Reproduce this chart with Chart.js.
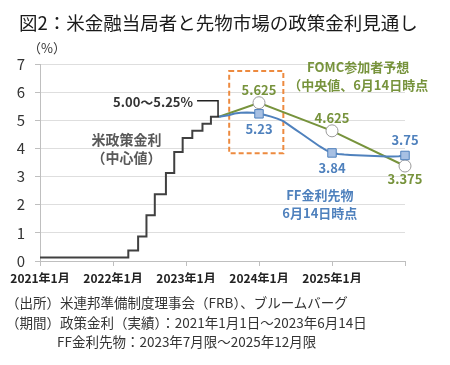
<!DOCTYPE html>
<html>
<head>
<meta charset="utf-8">
<script src="https://cdn.jsdelivr.net/npm/chart.js@4"></script>
<style>
body{margin:0;background:#fff;font-family:"Noto Sans CJK JP",sans-serif;}
#wrap{position:relative;width:450px;height:365px;overflow:hidden;}
canvas{position:absolute;left:0;top:0;}
.t{position:absolute;white-space:nowrap;color:#262626;}
</style>
</head>
<body>
<div id="wrap">
<canvas id="myChart" width="450" height="365"></canvas>
<div class="t" style="left:19px;top:9px;font-size:18.5px;color:#1a1a1a;">図2：米金融当局者と先物市場の政策金利見通し</div>
<div class="t" style="left:28px;top:38px;font-size:13px;color:#333;">（%）</div>
<div class="t" style="left:6px;top:292px;font-size:13.5px;color:#333;">（出所）米連邦準備制度理事会（FRB）、ブルームバーグ</div>
<div class="t" style="left:6px;top:312px;font-size:13.5px;color:#333;">（期間）政策金利（実績）：2021年1月1日～2023年6月14日</div>
<div class="t" style="left:57px;top:331px;font-size:13.5px;color:#333;">FF金利先物：2023年7月限～2025年12月限</div>
</div>
<script>
// 政策金利（中心値）: 変更日と水準
const policyDates = ["2021-01-01","2022-03-17","2022-05-05","2022-06-16","2022-07-28","2022-09-22",
    "2022-11-03","2022-12-15","2023-02-02","2023-03-23","2023-05-04","2023-06-14"]
const policyRates = [0.125,0.375,0.875,1.625,2.375,3.125,3.875,4.375,4.625,4.875,5.125,5.125]

// FOMC参加者予想（中央値）: 年末
const fomcDates = ["2023-06-14","2023-12-31","2024-12-31","2025-12-31"]
const fomcRates = [5.125,5.625,4.625,3.375]

// FF金利先物: 2023年7月限～2025年12月限
const futuresMonths = ["2023-07","2023-08","2023-09","2023-10","2023-11","2023-12",
    "2024-01","2024-02","2024-03","2024-04","2024-05","2024-06","2024-07","2024-08","2024-09","2024-10","2024-11","2024-12",
    "2025-01","2025-02","2025-03","2025-04","2025-05","2025-06","2025-07","2025-08","2025-09","2025-10","2025-11","2025-12"]
const futuresRates = [5.18,5.24,5.27,5.28,5.27,5.23,
    5.19,5.13,5.06,4.97,4.82,4.67,4.52,4.37,4.22,4.07,3.94,3.84,
    3.80,3.78,3.77,3.76,3.75,3.74,3.73,3.72,3.71,3.71,3.72,3.75]

const xTickYears = [2021,2022,2023,2024,2025,2026]

const GREEN = "#77933C"
const BLUE = "#4F81BD"
const DARK = "#404040"

// 2021年1月1日からの経過月数
function dateToMonth(s){
    let [y, m, d] = s.split("-").map(Number)
    if (d === undefined) return (y - 2021) * 12 + m   // 限月は月末
    let days = new Date(y, m, 0).getDate()
    if (d >= days) return (y - 2021) * 12 + m
    return (y - 2021) * 12 + (m - 1) + (d - 1) / days
}

const policyData = policyDates.map((d, i) => ({x: dateToMonth(d), y: policyRates[i]}))
const fomcData = fomcDates.map((d, i) => ({x: dateToMonth(d), y: fomcRates[i]}))
const futuresData = [{x: dateToMonth(policyDates[policyDates.length - 1]), y: policyRates[policyRates.length - 1]}]
    .concat(futuresMonths.map((m, i) => ({x: dateToMonth(m), y: futuresRates[i]})))

function isYearEnd(p){ return p && Math.abs(p.x % 12) < 0.001 && p.x > 30 }

const labelPlugin = {
    id: "labels",
    beforeDatasetsDraw(chart){
        let ctx = chart.ctx, xs = chart.scales.x, ys = chart.scales.y
        // 点線の枠（2023年末）
        ctx.save()
        ctx.strokeStyle = "#ED8A3F"
        ctx.lineWidth = 2
        ctx.setLineDash([5, 3])
        let x0 = xs.getPixelForValue(31.1), x1 = xs.getPixelForValue(40)
        let y0 = ys.getPixelForValue(6.75), y1 = ys.getPixelForValue(3.83)
        ctx.strokeRect(x0, y0, x1 - x0, y1 - y0)
        ctx.restore()
    },
    afterDatasetsDraw(chart){
        let ctx = chart.ctx, xs = chart.scales.x, ys = chart.scales.y
        ctx.save()
        ctx.textAlign = "center"
        ctx.textBaseline = "middle"

        // 5.00～5.25% の引き出し線
        let last = policyData[policyData.length - 1]
        let lx = xs.getPixelForValue(last.x) - 1, ly = ys.getPixelForValue(last.y)
        ctx.strokeStyle = "#222"
        ctx.lineWidth = 1.5
        ctx.beginPath()
        ctx.moveTo(lx - 21, ly - 16)
        ctx.lineTo(lx, ly - 16)
        ctx.lineTo(lx, ly)
        ctx.stroke()
        ctx.fillStyle = "#333"
        ctx.font = "bold 13px 'Noto Sans CJK JP'"
        ctx.textAlign = "right"
        ctx.fillText("5.00～5.25%", lx - 25, ly - 15)
        ctx.textAlign = "center"

        // 系列名
        ctx.font = "bold 14px 'Noto Sans CJK JP'"
        ctx.fillStyle = "#595959"
        ctx.fillText("米政策金利", xs.getPixelForValue(14.2), ys.getPixelForValue(4.3))
        ctx.fillText("（中心値）", xs.getPixelForValue(14.2), ys.getPixelForValue(3.68))

        ctx.font = "bold 13px 'Noto Sans CJK JP'"
        ctx.fillStyle = GREEN
        ctx.fillText("FOMC参加者予想", xs.getPixelForValue(52.3), ys.getPixelForValue(6.9))
        ctx.textAlign = "left"
        ctx.fillText("（中央値、6月14日時点", xs.getPixelForValue(40.8), ys.getPixelForValue(6.25))
        ctx.textAlign = "center"
        ctx.fillStyle = BLUE
        ctx.fillText("FF金利先物", xs.getPixelForValue(46), ys.getPixelForValue(2.34))
        ctx.fillText("6月14日時点", xs.getPixelForValue(46), ys.getPixelForValue(1.7))

        // 値ラベル
        ctx.font = "bold 13px 'Noto Sans CJK JP'"
        fomcData.forEach((p, i) => {
            if (i == 0) return
            let above = i < fomcData.length - 1
            ctx.fillStyle = GREEN
            ctx.fillText(String(p.y), xs.getPixelForValue(p.x), ys.getPixelForValue(p.y) + (above ? -13 : 13))
        })
        futuresData.forEach((p, i) => {
            if (!isYearEnd(p)) return
            let above = i == futuresData.length - 1
            ctx.fillStyle = BLUE
            ctx.fillText(String(p.y), xs.getPixelForValue(p.x), ys.getPixelForValue(p.y) + (above ? -15 : 15))
        })
        ctx.restore()
    }
}

let htmlChart = document.getElementById("myChart")

new Chart(htmlChart, {
    type: "line",
    data: {
        datasets: [
            {
                label: "米政策金利",
                data: policyData,
                stepped: true,
                borderColor: DARK,
                borderWidth: 2,
                pointRadius: 0
            },
            {
                label: "FF金利先物",
                data: futuresData,
                borderColor: BLUE,
                borderWidth: 2,
                tension: 0,
                clip: false,
                pointStyle: "rect",
                pointRadius: (c) => isYearEnd(c.raw) ? 6 : 0,
                pointBackgroundColor: "#A7C0E3",
                pointBorderColor: BLUE,
                pointBorderWidth: 1
            },
            {
                label: "FOMC参加者予想",
                data: fomcData,
                borderColor: GREEN,
                borderWidth: 2,
                clip: false,
                pointRadius: (c) => c.dataIndex > 0 ? 6 : 0,
                pointBackgroundColor: "#fff",
                pointBorderColor: "#9a9a9a",
                pointBorderWidth: 1
            }
        ]
    },
    options: {
        responsive: false,
        animation: false,
        layout: {
            padding: {top: 64, right: 45, bottom: 82, left: 0}
        },
        plugins: {
            legend: {display: false},
            tooltip: {enabled: false}
        },
        scales: {
            x: {
                type: "linear",
                min: 0,
                max: 60,
                afterFit: (s) => { s.height = 22 },
                afterBuildTicks: (s) => { s.ticks = xTickYears.map(y => ({value: (y - 2021) * 12})) },
                border: {color: "#bfbfbf", width: 1},
                grid: {drawOnChartArea: false, drawTicks: true, tickLength: 5, color: "#bfbfbf"},
                ticks: {
                    padding: 5,
                    maxRotation: 0,
                    autoSkip: false,
                    color: "#222",
                    font: {size: 12, weight: "bold", family: "'Noto Sans CJK JP'"},
                    callback: (v) => v < 60 ? (2021 + v / 12) + "年1月" : ""
                }
            },
            y: {
                min: 0,
                max: 7,
                afterFit: (s) => { s.width = 40 },
                border: {color: "#bfbfbf", width: 1},
                grid: {color: "#dedede", tickLength: 5, tickColor: "#bfbfbf"},
                ticks: {
                    stepSize: 1,
                    padding: 10,
                    color: "#333",
                    font: {size: 15, family: "'Noto Sans CJK JP'"}
                }
            }
        }
    },
    plugins: [labelPlugin]
});
</script>
</body>
</html>
